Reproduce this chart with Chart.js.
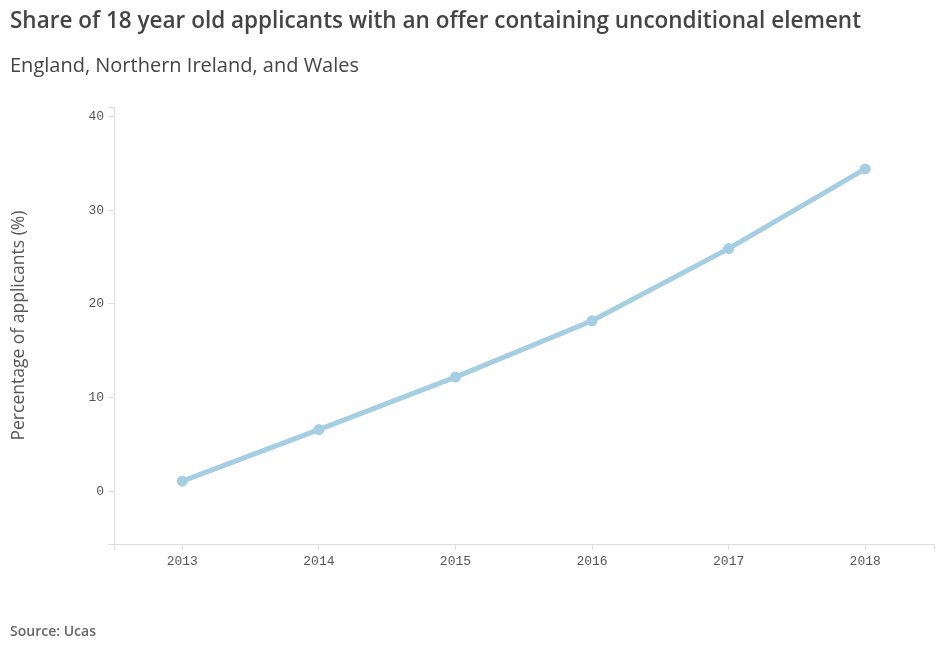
<!DOCTYPE html>
<html>
<head>
<meta charset="utf-8">
<script src="https://cdn.jsdelivr.net/npm/chart.js@4.4.0/dist/chart.umd.min.js"></script>
<style>
  body { margin: 0; background: #fff; font-family: "Open Sans", sans-serif; }
  #wrap { position: relative; width: 939px; height: 660px; }
  #title { position: absolute; left: 10px; top: 4px; font-size: 22.5px; font-weight: 600; color: #444; white-space: nowrap; }
  #subtitle { position: absolute; left: 10px; top: 51px; font-size: 20px; color: #444; white-space: nowrap; }
  #source { position: absolute; left: 10px; top: 621px; font-size: 14px; font-weight: 600; color: #666; }
  canvas { position: absolute; left: 0; top: 0; }
</style>
</head>
<body>
<div id="wrap">
  <canvas id="grafico" width="939" height="660"></canvas>
  <div id="title">Share of 18 year old applicants with an offer containing unconditional element</div>
  <div id="subtitle">England, Northern Ireland, and Wales</div>
  <div id="source">Source: Ucas</div>
</div>
<script>
const anios = ['2013', '2014', '2015', '2016', '2017', '2018'];
const porcentajes = [1.1, 6.6, 12.2, 18.2, 25.9, 34.4];
const ticksY = [0, 10, 20, 30, 40];
const minY = -5.6;
const maxY = 41;

const gris = '#dddddd';
const azul = '#a6cee3';

// ticks de los extremos del eje x (estilo d3)
const extremosX = {
  id: 'extremosX',
  afterDraw(chart) {
    const { ctx, chartArea } = chart;
    ctx.save();
    ctx.strokeStyle = gris;
    ctx.lineWidth = 1;
    ctx.beginPath();
    [chartArea.left, chartArea.right].forEach(x => {
      const px = Math.round(x) + 0.5;
      ctx.moveTo(px, chartArea.bottom);
      ctx.lineTo(px, chartArea.bottom + 6);
    });
    ctx.stroke();
    ctx.restore();
  }
};

const ctx = document.getElementById('grafico');
const myChart = new Chart(ctx, {
  type: 'line',
  data: {
    labels: anios,
    datasets: [{
      label: 'Porcentaje',
      data: porcentajes,
      borderColor: azul,
      backgroundColor: azul,
      borderWidth: 5,
      pointRadius: 5.5,
      pointHoverRadius: 5.5,
      pointBorderWidth: 0,
      tension: 0,
    }]
  },
  options: {
    responsive: false,
    animation: false,
    layout: {
      padding: { left: 0, top: 107, right: 5, bottom: 86 }
    },
    plugins: {
      legend: { display: false },
      tooltip: { enabled: false },
    },
    scales: {
      x: {
        offset: true,
        grid: { drawOnChartArea: false, drawTicks: true, tickLength: 6, color: gris, offset: false },
        border: { display: true, color: gris },
        ticks: {
          color: '#555',
          padding: 4,
          font: { family: 'Liberation Mono', size: 13 },
          maxRotation: 0,
        },
        afterFit(scale) { scale.height = 30; },
      },
      y: {
        min: minY,
        max: maxY,
        afterBuildTicks(scale) {
          scale.ticks = [minY].concat(ticksY, [maxY]).map(v => ({ value: v }));
        },
        grid: { drawOnChartArea: false, drawTicks: true, tickLength: 6, color: gris },
        border: { display: true, color: gris },
        ticks: {
          color: '#555',
          padding: 4,
          font: { family: 'Liberation Mono', size: 13 },
          callback: v => ticksY.includes(v) ? String(v) : '',
        },
        title: {
          display: true,
          text: 'Percentage of applicants (%)',
          color: '#555',
          font: { family: 'Open Sans', size: 17.5 },
          padding: { top: 9, bottom: 0 },
        },
        afterFit(scale) { scale.width = 114; },
      }
    }
  },
  plugins: [extremosX],
});
</script>
</body>
</html>
